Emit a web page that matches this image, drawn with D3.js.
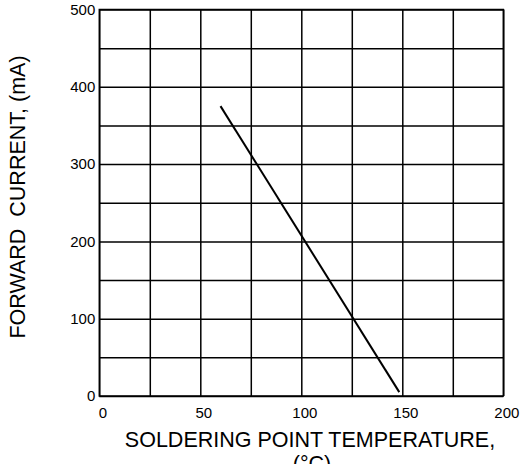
<!DOCTYPE html>
<html>
<head>
<meta charset="utf-8">
<script src="https://cdn.jsdelivr.net/npm/d3@7"></script>
<style>
  body { margin: 0; background: #fff; }
  text { font-family: "Liberation Sans", Arial, sans-serif; fill: #000; }
</style>
</head>
<body>
<div id="chart"></div>
<script>
// data
const tempTicks = [0, 50, 100, 150, 200];
const currentTicks = [0, 100, 200, 300, 400, 500];
const derating = [
  { temp: 60, current: 375 },
  { temp: 148.5, current: 5 }
];

const width = 520;
const height = 464;
const marginTop = 9.5;
const marginRight = 16.7;
const marginBottom = 68;
const marginLeft = 99.3;

const x = d3.scaleLinear()
    .domain([0, 200])
    .range([marginLeft, width - marginRight]);

const y = d3.scaleLinear()
    .domain([0, 500])
    .range([height - marginBottom, marginTop]);

const svg = d3.select("#chart")
  .append("svg")
    .attr("width", width)
    .attr("height", height)
    .attr("viewBox", [0, 0, width, height]);

// vertical grid + x labels
const xAxis = svg.append("g")
    .attr("transform", `translate(0,${height - marginBottom})`)
    .call(d3.axisBottom(x)
      .tickValues(d3.range(0, 201, 25))
      .tickSize(-(height - marginBottom - marginTop))
      .tickFormat(d => tempTicks.includes(d) ? d : ""));
xAxis.select(".domain").remove();
xAxis.selectAll("line").attr("stroke", "#000").attr("stroke-width", 1.5);
xAxis.selectAll("text")
    .attr("font-size", 15)
    .attr("dx", 3)
    .attr("y", 11);

// horizontal grid + y labels
const yAxis = svg.append("g")
    .attr("transform", `translate(${marginLeft},0)`)
    .call(d3.axisLeft(y)
      .tickValues(d3.range(0, 501, 50))
      .tickSize(-(width - marginLeft - marginRight))
      .tickFormat(d => currentTicks.includes(d) ? d : ""));
yAxis.select(".domain").remove();
yAxis.selectAll("line").attr("stroke", "#000").attr("stroke-width", 1.5);
yAxis.selectAll("text")
    .attr("font-size", 15)
    .attr("x", -4);

// frame
svg.append("rect")
    .attr("x", marginLeft)
    .attr("y", marginTop)
    .attr("width", width - marginLeft - marginRight)
    .attr("height", height - marginBottom - marginTop)
    .attr("fill", "none")
    .attr("stroke", "#000")
    .attr("stroke-width", 1.5);

// derating line
svg.append("path")
    .datum(derating)
    .attr("fill", "none")
    .attr("stroke", "#000")
    .attr("stroke-width", 2)
    .attr("d", d3.line().x(d => x(d.temp)).y(d => y(d.current)));

// axis titles (second line is clipped by the bottom edge, as in the original)
svg.append("text")
    .attr("x", 310)
    .attr("y", 447)
    .attr("text-anchor", "middle")
    .attr("font-size", 21.5)
    .text("SOLDERING POINT TEMPERATURE,");
svg.append("text")
    .attr("x", 312)
    .attr("y", 471)
    .attr("text-anchor", "middle")
    .attr("font-size", 21.5)
    .text("(°C)");

svg.append("text")
    .attr("transform", "translate(25,197) rotate(-90)")
    .attr("text-anchor", "middle")
    .attr("font-size", 21.5)
    .style("white-space", "pre")
    .text("FORWARD  CURRENT, (mA)");
</script>
</body>
</html>
